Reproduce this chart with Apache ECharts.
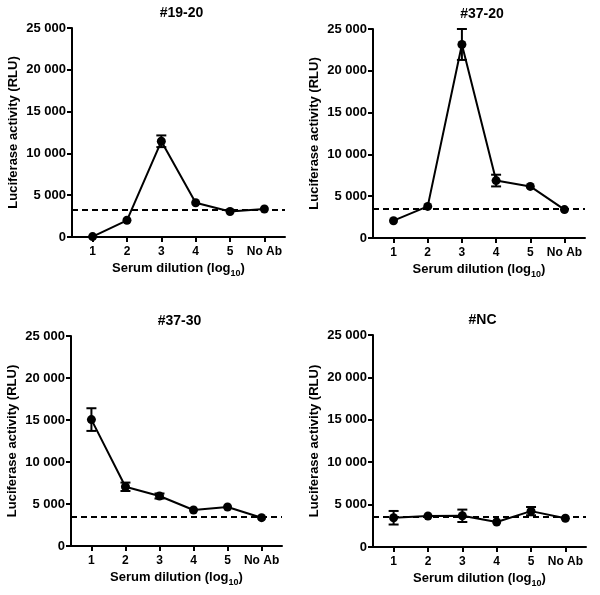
<!DOCTYPE html>
<html><head><meta charset="utf-8">
<script src="https://cdn.jsdelivr.net/npm/echarts@6/dist/echarts.min.js"></script>
<style>html,body{margin:0;padding:0;background:#fff}#c{width:600px;height:595px}</style>
</head><body><div id="c"></div>
<script>
var categories = ['1','2','3','4','5','No Ab'];
var xPositions = [1,2,3,4,5,6];
var yTicks = [0,5000,10000,15000,20000,25000];
var titles = ['#19-20','#37-20','#37-30','#NC'];

var mean19_20 = [50, 2000, 11450, 4100, 3050, 3350];
var err19_20 = [0, 0, 700, 0, 0, 0];
var base19_20 = 3250;

var mean37_20 = [2070, 3780, 23150, 6870, 6170, 3400];
var err37_20 = [0, 0, 1850, 700, 0, 0];
var base37_20 = 3470;

var mean37_30 = [15050, 7050, 5950, 4290, 4640, 3370];
var err37_30 = [1350, 500, 300, 0, 0, 0];
var base37_30 = 3450;

var meanNC = [3450, 3660, 3680, 2950, 4230, 3390];
var errNC = [800, 0, 730, 0, 490, 0];
var baseNC = 3540;

var panels = [
  {mean: mean19_20, err: err19_20, base: base19_20},
  {mean: mean37_20, err: err37_20, base: base37_20},
  {mean: mean37_30, err: err37_30, base: base37_30},
  {mean: meanNC, err: errNC, base: baseNC}
];

var grids = [
  {left:72, top:28, width:213, height:209},
  {left:373, top:29, width:212, height:209},
  {left:71, top:336, width:211, height:210},
  {left:373, top:335, width:213, height:212}
];

var FONT = 'Liberation Sans';
var option = {
  backgroundColor:'#fff',
  animation:false,
  title: [], grid: [], xAxis: [], yAxis: [], series: []
};

function fmtY(v){ return v===0 ? '0' : String(v).replace(/\B(?=(\d{3})+(?!\d))/g,' '); }

grids.forEach(function(g, i){
  option.grid.push({left:g.left, top:g.top, width:g.width, height:g.height, containLabel:false});
  option.title.push({
    text: titles[i], left: g.left + g.width/2 - 2, top: g.top - 27, textAlign:'center',
    textStyle:{fontFamily:FONT, fontWeight:'bold', fontSize:14, color:'#000'}
  });
  option.xAxis.push({
    type:'value', gridIndex:i, min:0.4, max:6.6,
    name:'{a|Serum dilution (log}{b|10}{a|)}', nameLocation:'middle', nameGap:23,
    nameTextStyle:{rich:{
      a:{fontFamily:FONT, fontWeight:'bold', fontSize:13, color:'#000', verticalAlign:'bottom', lineHeight:15},
      b:{fontFamily:FONT, fontWeight:'bold', fontSize:9, color:'#000', verticalAlign:'bottom', padding:[0,0,-3,0], lineHeight:15}
    }},
    axisLine:{show:true, onZero:false, lineStyle:{color:'#000', width:2}},
    axisTick:{show:true, length:5, lineStyle:{color:'#000', width:2}, customValues: xPositions},
    axisLabel:{fontFamily:FONT, fontWeight:'bold', fontSize:12, color:'#000', margin:9,
      customValues: xPositions,
      formatter:function(v){ return categories[Math.round(v)-1] || ''; }},
    splitLine:{show:false}
  });
  option.yAxis.push({
    type:'value', gridIndex:i, min:0, max:25000, interval:5000,
    name:'Luciferase activity (RLU)', nameLocation:'middle', nameGap:52,
    nameTextStyle:{fontFamily:FONT, fontWeight:'bold', fontSize:13, color:'#000'},
    axisLine:{show:true, lineStyle:{color:'#000', width:2}},
    axisTick:{show:true, length:5, lineStyle:{color:'#000', width:2}},
    axisLabel:{fontFamily:FONT, fontWeight:'bold', fontSize:13, color:'#000', margin:6, formatter:fmtY},
    splitLine:{show:false}
  });
  var p = panels[i];
  var errData = [];
  var lineData = [];
  for (var k=0;k<xPositions.length;k++){
    lineData.push([xPositions[k], p.mean[k]]);
    if (p.err[k] > 0) errData.push([xPositions[k], p.mean[k]-p.err[k], p.mean[k]+p.err[k]]);
  }
  option.series.push({
    type:'custom', xAxisIndex:i, yAxisIndex:i, data:errData, z:2,
    renderItem:function(params, api){
      var x = api.value(0);
      var lo = api.coord([x, api.value(1)]);
      var hi = api.coord([x, api.value(2)]);
      var hw = 5;
      var st = {stroke:'#000', lineWidth:2, fill:null};
      return {type:'group', children:[
        {type:'line', shape:{x1:lo[0], y1:lo[1], x2:hi[0], y2:hi[1]}, style:st},
        {type:'line', shape:{x1:lo[0]-hw, y1:lo[1], x2:lo[0]+hw, y2:lo[1]}, style:st},
        {type:'line', shape:{x1:hi[0]-hw, y1:hi[1], x2:hi[0]+hw, y2:hi[1]}, style:st}
      ]};
    }
  });
  option.series.push({
    type:'line', xAxisIndex:i, yAxisIndex:i, data:lineData, z:3,
    symbol:'circle', symbolSize:9, itemStyle:{color:'#000'},
    lineStyle:{color:'#000', width:2},
    markLine:{silent:true, symbol:'none', label:{show:false},
      lineStyle:{color:'#000', width:2, type:[6,4]},
      data:[{yAxis:p.base}]}
  });
});

var chart = echarts.init(document.getElementById('c'));
chart.setOption(option);
</script></body></html>
